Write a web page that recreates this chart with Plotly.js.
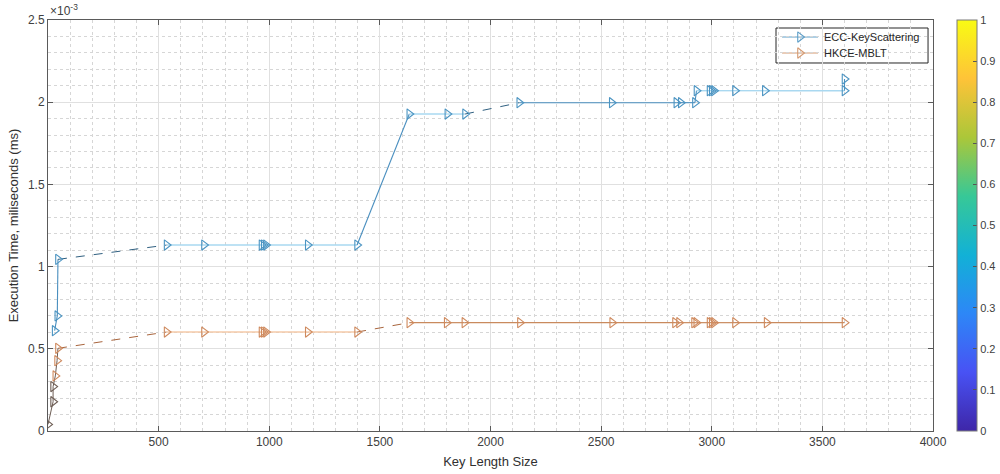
<!DOCTYPE html>
<html>
<head>
<meta charset="utf-8">
<script src="https://cdn.plot.ly/plotly-3.0.1.min.js"></script>
<style>html,body{margin:0;padding:0;background:#fff;}#chart{width:1000px;height:474px;}</style>
</head>
<body>
<div id="chart"></div>
<script>
// ---- data ----
const seriesNames = ['ECC-KeyScattering', 'HKCE-MBLT'];
const keyLenECC = [30, 42, 45, 536, 705, 965, 975, 985, 1174, 1397, 1633, 1805, 1885, 2130, 2548, 2840, 2860, 2924, 2931, 2990, 3000, 3010, 3105, 3240, 3600, 3600];
const timeECC = [0.00061, 0.00070, 0.001044, 0.001131, 0.001131, 0.001131, 0.001131, 0.001131, 0.001131, 0.001131,
                 0.001928, 0.001928, 0.001928, 0.001997, 0.001997, 0.001997, 0.001997, 0.001997,
                 0.00207, 0.00207, 0.00207, 0.00207, 0.00207, 0.00207, 0.00207, 0.002141];
const keyLenHKCE = [0, 23, 23, 33, 41, 45, 536, 705, 965, 975, 985, 1174, 1397, 1633, 1802, 1882, 2133, 2550, 2834, 2852, 2920, 2930, 2990, 3000, 3010, 3105, 3248, 3600];
const timeHKCE = [0.00004, 0.000178, 0.00027, 0.000335, 0.000428, 0.000503,
                  0.000602, 0.000602, 0.000602, 0.000602, 0.000602, 0.000602, 0.000602,
                  0.000659, 0.000659, 0.000659, 0.000659, 0.000659, 0.000659, 0.000659, 0.000659, 0.000659,
                  0.000659, 0.000659, 0.000659, 0.000659, 0.000659, 0.000659];
const xTicks = [500, 1000, 1500, 2000, 2500, 3000, 3500, 4000];
const yTicks = [0, 0.0005, 0.001, 0.0015, 0.002, 0.0025];
const yTickText = ['0', '0.5', '1', '1.5', '2', '2.5'];
const cbTicks = [0, 0.1, 0.2, 0.3, 0.4, 0.5, 0.6, 0.7, 0.8, 0.9, 1];

// ---- styles (segment shading, not data) ----
const segECC = ['m','m','d','l','l','l','l','l','l','m','l','l','d','m','m','m','m','m','l','l','l','l','l','l','m'];
const segHKCE = ['g','g','g','g','g','d','l','l','l','l','l','l','d','m','m','m','m','m','m','m','m','m','m','m','m','m','m'];
const styleECC = {
  m: {color: '#4a8fbf', width: 1.1, dash: 'solid'},
  l: {color: '#a9d8f0', width: 1.4, dash: 'solid'},
  d: {color: '#2f5f80', width: 1, dash: 'dash'}
};
const styleHKCE = {
  g: {color: '#6e5e55', width: 1, dash: 'solid'},
  m: {color: '#c98a5e', width: 1.2, dash: 'solid'},
  l: {color: '#f4caa9', width: 1.4, dash: 'solid'},
  d: {color: '#a8643c', width: 1, dash: 'dash'}
};
const legendColors = ['#5f9fc8', '#d49a72'];
const parula = [
  [0, '#3e26a8'], [0.1429, '#4852f4'], [0.2857, '#2d87f7'], [0.4286, '#12b1d6'],
  [0.5714, '#37c897'], [0.7143, '#abc739'], [0.8571, '#fec338'], [1, '#f9fb14']
];

const traces = [];
function addSegments(xs, ys, codes, styles) {
  for (let i = 0; i < xs.length - 1; i++) {
    const st = styles[codes[i]];
    traces.push({
      x: [xs[i], xs[i + 1]], y: [ys[i], ys[i + 1]],
      type: 'scatter', mode: 'lines', showlegend: false, hoverinfo: 'skip',
      line: {color: st.color, width: st.width, dash: st.dash}
    });
  }
}
addSegments(keyLenECC, timeECC, segECC, styleECC);
addSegments(keyLenHKCE, timeHKCE, segHKCE, styleHKCE);

traces.push({
  x: keyLenECC, y: timeECC, type: 'scatter', mode: 'markers', showlegend: false,
  marker: {symbol: 'triangle-right-open', size: 9, color: '#4b94c2', line: {width: 1.1}}
});
traces.push({
  x: keyLenHKCE, y: timeHKCE, type: 'scatter', mode: 'markers', showlegend: false,
  marker: {symbol: 'triangle-right-open', size: 9,
           color: timeHKCE.map(v => v < 0.0003 ? '#6e5e55' : '#cf8a5e'), line: {width: 1.1}}
});

// ---- legend box (chrome, in paper units) ----
const legX0 = 0.8226, legX1 = 0.9944, legYTop = 0.9805, legYBot = 0.8954;
const rowY = [0.9586, 0.9197];
const symX0 = 0.8294, symX1 = 0.8701, symXm = 0.8497, textX = 0.8746;
const shapes = [{type: 'rect', xref: 'paper', yref: 'paper', x0: legX0, x1: legX1, y0: legYBot, y1: legYTop,
  fillcolor: '#ffffff', line: {color: '#262626', width: 1}, layer: 'between'}];
seriesNames.forEach((n, i) => {
  shapes.push({type: 'line', xref: 'paper', yref: 'paper', x0: symX0, x1: symX1, y0: rowY[i], y1: rowY[i],
    line: {color: legendColors[i], width: 1}, layer: 'between'});
});
traces.push({
  x: rowY.map(() => symXm), y: rowY, xaxis: 'x2', yaxis: 'y2', type: 'scatter', mode: 'markers',
  showlegend: false, hoverinfo: 'skip',
  marker: {symbol: 'triangle-right-open', size: 9, color: legendColors, line: {width: 1.1}}
});

// colorbar carrier
traces.push({
  x: [-1000], y: [-1], type: 'scatter', mode: 'markers', showlegend: false, hoverinfo: 'skip',
  marker: {color: [0], cmin: 0, cmax: 1, colorscale: parula, showscale: true, opacity: 0,
    colorbar: {x: 1.027, xanchor: 'left', xref: 'paper', y: 0.5, yanchor: 'middle', len: 1, lenmode: 'fraction',
      thickness: 20, thicknessmode: 'pixels', outlinewidth: 1, outlinecolor: '#7a7a7a',
      ticks: 'inside', ticklen: 4, tickcolor: '#555', tickvals: cbTicks, ticktext: cbTicks.map(String),
      tickfont: {family: 'Liberation Sans, Arial, sans-serif', size: 11, color: '#404040'},
      xpad: 0, ypad: 0}}
});

const fontFam = 'Liberation Sans, Arial, sans-serif';
const annotations = [{
  xref: 'paper', yref: 'paper', x: 0, y: 1, xanchor: 'left', yanchor: 'bottom', yshift: 0,
  text: '×10<sup>-3</sup>', showarrow: false, font: {size: 12, color: '#404040'}
}];
seriesNames.forEach((n, i) => {
  annotations.push({xref: 'paper', yref: 'paper', x: textX, y: rowY[i], xanchor: 'left', yanchor: 'middle',
    text: n, showarrow: false, font: {family: fontFam, size: 11, color: '#262626'}});
});

const layout = {
  width: 1000, height: 474,
  margin: {l: 48, r: 67, t: 20, b: 43, autoexpand: false},
  paper_bgcolor: '#ffffff', plot_bgcolor: '#ffffff',
  font: {family: fontFam, size: 12, color: '#404040'},
  xaxis: {
    range: [0, 4000], tickvals: xTicks, ticktext: xTicks.map(String),
    ticks: 'inside', ticklen: 5, tickcolor: '#5a5a5a',
    showline: true, linecolor: '#5a5a5a', linewidth: 1, mirror: 'ticks',
    showgrid: true, gridcolor: '#e0e0e0', gridwidth: 1, zeroline: false,
    minor: {dtick: 100, showgrid: true, gridcolor: '#d6d6d6', griddash: 'dot', gridwidth: 1},
    tickfont: {size: 12, color: '#404040'},
    title: {text: 'Key Length Size', font: {size: 13, color: '#303030'}, standoff: 8},
    automargin: false
  },
  yaxis: {
    range: [0, 0.0025], tickvals: yTicks, ticktext: yTickText,
    ticks: 'inside', ticklen: 5, tickcolor: '#5a5a5a',
    showline: true, linecolor: '#5a5a5a', linewidth: 1, mirror: 'ticks',
    showgrid: true, gridcolor: '#e0e0e0', gridwidth: 1, zeroline: false,
    minor: {dtick: 0.0001, showgrid: true, gridcolor: '#d6d6d6', griddash: 'dot', gridwidth: 1},
    tickfont: {size: 12, color: '#404040'},
    title: {text: 'Execution Time, miliseconds (ms)', font: {size: 13, color: '#303030'}, standoff: 6},
    automargin: false
  },
  xaxis2: {overlaying: 'x', range: [0, 1], visible: false, showgrid: false, zeroline: false},
  yaxis2: {overlaying: 'y', range: [0, 1], visible: false, showgrid: false, zeroline: false},
  shapes: shapes,
  annotations: annotations,
  showlegend: false
};

Plotly.newPlot('chart', traces, layout, {displayModeBar: false, staticPlot: true});
</script>
</body>
</html>
